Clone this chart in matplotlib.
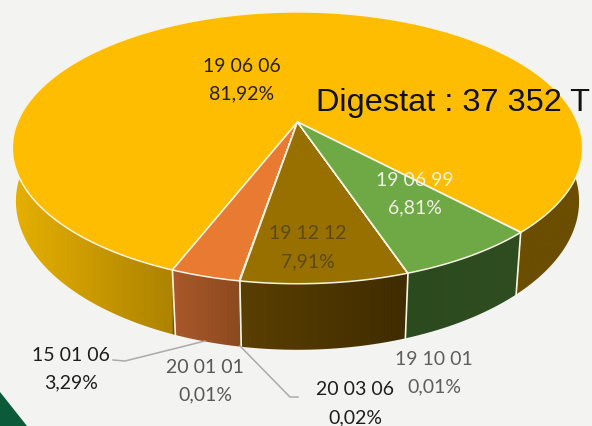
import numpy as np
import matplotlib
matplotlib.use("Agg")
import matplotlib.pyplot as plt
from matplotlib.colors import to_rgb
from matplotlib.patches import Polygon

# clockwise from the green slice, percentages as printed on the chart
codes = ["19 06 99", "19 10 01", "19 12 12", "20 03 06", "20 01 01", "15 01 06", "19 06 06"]
shares = [6.81, 0.01, 7.91, 0.02, 0.01, 3.29, 81.92]
share_labels = ["6,81%", "0,01%", "7,91%", "0,02%", "0,01%", "3,29%", "81,92%"]

top_colors = ["#6FA945", "#5A5A5A", "#987000", "#255E91", "#9E480E", "#E97A32", "#FEBD00"]
# wall colour stops: (x pixel, colour)
wall_stops = [
    [(405, "#2B4A1E"), (520, "#2F4D20")],
    [(405, "#2B4A1E"), (520, "#2F4D20")],
    [(240, "#5A3F00"), (405, "#402C00")],
    [(240, "#5A3F00"), (405, "#402C00")],
    [(175, "#A8582A"), (240, "#8C4A1F")],
    [(175, "#A8582A"), (240, "#8C4A1F")],
    [(12, "#E6B000"), (172, "#AD8300"), (173, "#6B4E00"), (590, "#6B4E00")],
]

# where the slice names sit: (x, y of name, y of share, colour)
label_pos = {
    "19 06 06": (242, 66, 94, "#2A1E00"),
    "19 06 99": (415, 181, 208, "#F1F1E4"),
    "19 12 12": (308, 234, 262, "#5B4A12"),
    "15 01 06": (71, 356, 383, "#1E1E1E"),
    "20 01 01": (205, 368, 395, "#58585A"),
    "20 03 06": (355, 390, 418, "#1E1E1E"),
    "19 10 01": (434, 360, 387, "#5E5E60"),
}

CX, CY = 297.5, 123.0
RX, RY, PERSP = 280.0, 131.0, 0.19
DEPTH = 53.5
START = -46.6
EDGE = "#F8F4E4"


def top_xy(deg):
    t = np.radians(deg)
    X, Y = np.cos(t), np.sin(t)
    w = 1 + PERSP * Y
    return CX + RX * X / w, CY - RY * Y / w


def bottom_xy(deg):
    x, y = top_xy(deg)
    Y = np.sin(np.radians(deg))
    # the lower rim draws in a little more towards the viewer
    return CX + (x - CX) * (0.99 + 0.0145 * Y), y + DEPTH / (1 + PERSP * Y)


fig = plt.figure(figsize=(5.92, 4.27), dpi=100, facecolor="#F3F3F1")
ax = fig.add_axes([0, 0, 1, 1])
ax.axis("off")

# corner of the slide behind the chart
ax.fill([0, 27, 0], [393, 427, 427], color="#0B5A3A", lw=0, zorder=1)

angles = START - np.concatenate([[0], np.cumsum(shares)]) * 3.6

# side wall: a horizontal gradient clipped to each slice's outline
grad_x = np.arange(0, 593)
for i in range(len(shares)):
    steps = np.linspace(angles[i], angles[i + 1], max(2, int(abs(angles[i + 1] - angles[i]) * 2) + 2))
    tx, ty = top_xy(steps)
    bx, by = bottom_xy(steps)
    outline = Polygon(np.c_[np.r_[tx, bx[::-1]], np.r_[ty, by[::-1]]], closed=True,
                      facecolor="none", edgecolor="none", transform=ax.transData)
    ax.add_patch(outline)
    xs = [s[0] for s in wall_stops[i]]
    rgb = np.array([to_rgb(s[1]) for s in wall_stops[i]])
    grad = np.stack([np.interp(grad_x, xs, rgb[:, c]) for c in range(3)], axis=-1)[None, :, :]
    im = ax.imshow(grad, extent=(0, 592, 427, 0), aspect="auto", interpolation="bilinear", zorder=2)
    im.set_clip_path(outline)

ax.set_xlim(0, 592)
ax.set_ylim(427, 0)

# boundaries on the wall
for a in angles[[0, 1, 3, 6]]:
    p, q = top_xy(a), bottom_xy(a)
    ax.plot([p[0], q[0]], [p[1], q[1]], color=EDGE, lw=1.2, zorder=3)

# top face, yellow first so the small slices stay above it
for i in [6, 5, 4, 3, 2, 1, 0]:
    steps = np.linspace(angles[i], angles[i + 1], max(2, int(abs(angles[i + 1] - angles[i]) * 2) + 2))
    x, y = top_xy(steps)
    ax.fill(np.r_[CX, x], np.r_[CY, y], facecolor=top_colors[i], edgecolor=EDGE, lw=1.1, joinstyle="round", zorder=4)

# leader lines
ax.plot([113, 125, 205], [361, 362, 342], color="#ABABAB", lw=1.1, zorder=5)
ax.plot([240, 290, 298], [347, 398, 398], color="#ABABAB", lw=1.1, zorder=5)

for code, share in zip(codes, share_labels):
    x, y0, y1, col = label_pos[code]
    ax.text(x, y0, code, ha="center", va="center", family="Lato", fontsize=14, color=col, zorder=6)
    ax.text(x, y1, share, ha="center", va="center", family="Lato", fontsize=14, color=col, zorder=6)

ax.text(316, 110.5, "Digestat : 37 352 T", ha="left", va="baseline", family="Liberation Sans",
        fontsize=23.4, color="#111111", zorder=6)

fig.savefig("out.png", dpi=100, facecolor=fig.get_facecolor())
